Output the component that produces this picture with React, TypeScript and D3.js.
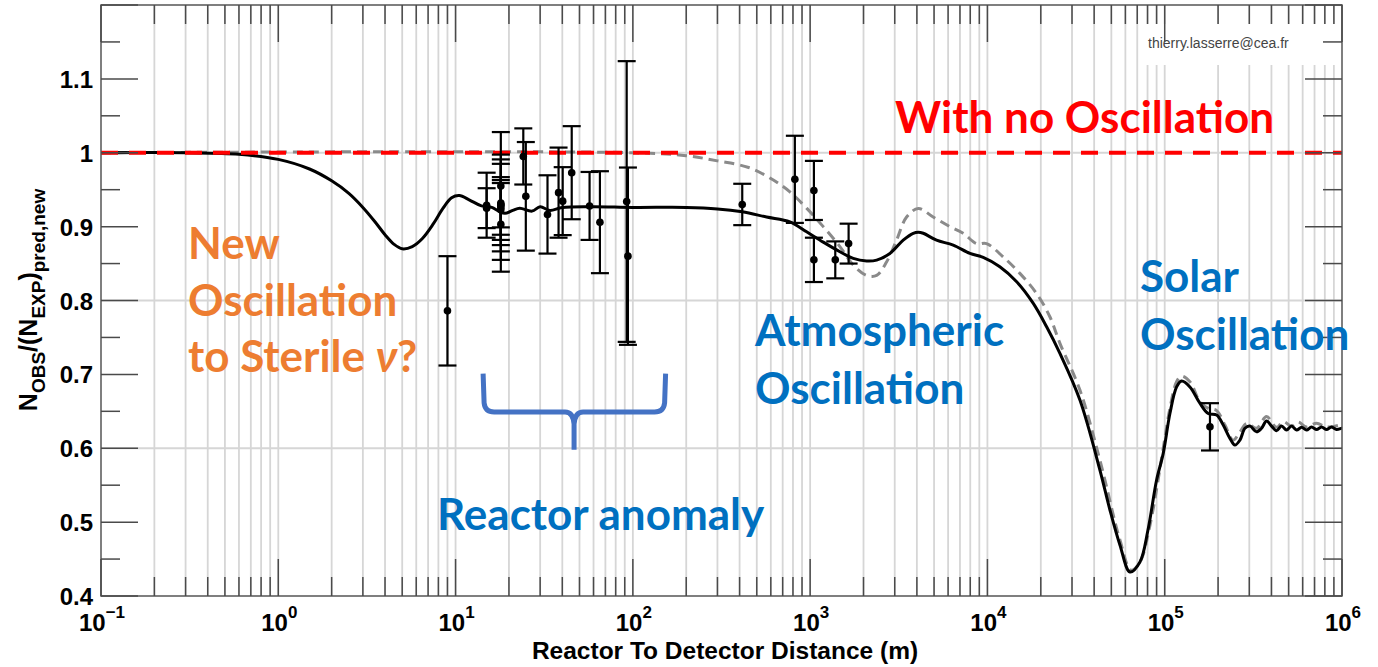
import React from "react";
import * as d3 from "d3";

// ---------- axes ----------
const xDomain: [number, number] = [0.1, 1e6];
const yDomain: [number, number] = [0.4, 1.2];
const xTickExponents = [-1, 0, 1, 2, 3, 4, 5, 6];
const yMajorTicks = [0.4, 0.5, 0.6, 0.7, 0.8, 0.9, 1.0, 1.1, 1.2];
const yTickLabels = ["0.4", "0.5", "0.6", "0.7", "0.8", "0.9", "1", "1.1", ""];
const yMinorTicks = [0.45, 0.55, 0.65, 0.75, 0.85, 0.95, 1.05, 1.15];
const yGridValues = [0.6, 0.8, 1.0];
const noOscillationLevel = 1.0;

// ---------- data points (distance in m, ratio, error) ----------
const dataDistance = [9.0, 14.97, 14.97, 18, 18, 18, 18, 18, 18, 18, 24.1, 24.9, 33.0, 38.1, 40.2, 45.2, 57, 65.2, 92.3, 93.8, 414, 820, 1050, 1050, 1386, 1648, 180000];
const dataRatio = [0.786, 0.929, 0.925, 0.955, 0.932, 0.903, 0.923, 0.930, 0.926, 0.929, 0.995, 0.941, 0.9165, 0.946, 0.9345, 0.973, 0.928, 0.906, 0.934, 0.860, 0.930, 0.964, 0.949, 0.855, 0.855, 0.877, 0.629];
const dataError = [0.074, 0.044, 0.027, 0.073, 0.0655, 0.064, 0.068, 0.055, 0.037, 0.030, 0.038, 0.0735, 0.053, 0.061, 0.046, 0.063, 0.046, 0.069, 0.19, 0.12, 0.028, 0.059, 0.040, 0.030, 0.025, 0.027, 0.032];

// ---------- curve with sterile oscillation (solid black) ----------
const sterileDistance = [0.1, 0.3, 0.6, 1.0, 1.5, 2.0, 2.5, 3.0, 3.5, 4.0, 4.5, 5.0, 5.7, 6.5, 7.5, 8.5, 9.5, 10.5, 12, 14, 16, 17.5, 19, 21, 23, 27, 30, 34, 40, 60, 100, 200, 300, 414, 568, 769, 955, 1186, 1472, 1750, 2083, 2372, 2818, 3350, 3814, 4074, 4345, 5164, 6412, 7965, 9467, 11750, 14620, 18140, 21570, 25640, 33250, 43100, 49100, 55900, 63700, 72500, 80400, 90000, 98100, 107000, 116700, 124500, 138700, 157900, 175900, 196300, 213800, 233300, 248900, 265600, 283400, 302300, 329600, 351600, 375200, 400500, 427300, 456000, 486600, 519400, 554200, 591400, 631000, 673000, 719000, 767000, 818000, 873000, 931000, 995000, 1000000];
const sterileRatio = [1.0, 1.0, 0.998, 0.991, 0.978, 0.962, 0.945, 0.926, 0.907, 0.889, 0.876, 0.870, 0.873, 0.884, 0.904, 0.925, 0.939, 0.942, 0.936, 0.928, 0.926, 0.921, 0.918, 0.922, 0.925, 0.921, 0.927, 0.922, 0.926, 0.927, 0.926, 0.926, 0.924, 0.920, 0.913, 0.9065, 0.893, 0.879, 0.866, 0.857, 0.8535, 0.8547, 0.8637, 0.8817, 0.891, 0.8925, 0.891, 0.8817, 0.875, 0.8637, 0.8583, 0.8456, 0.8253, 0.796, 0.7644, 0.7284, 0.6652, 0.5705, 0.5164, 0.469, 0.4325, 0.446, 0.489, 0.557, 0.593, 0.647, 0.683, 0.691, 0.683, 0.661, 0.647, 0.645, 0.6314, 0.6134, 0.6043, 0.611, 0.627, 0.630, 0.6223, 0.627, 0.6368, 0.630, 0.6237, 0.630, 0.6246, 0.630, 0.6246, 0.6283, 0.6246, 0.6287, 0.6253, 0.6287, 0.6253, 0.6287, 0.6253, 0.627, 0.627];

// ---------- standard three-flavour curve (dashed gray) ----------
const standardDistance = [0.1, 100, 200, 300, 450, 620, 769, 955, 1186, 1472, 1750, 2083, 2372, 2697, 3073, 3500, 4074, 4942, 6138, 7297, 8685, 9887, 12270, 15240, 18920, 22500, 25640, 33250, 43100, 55900, 64600, 72500, 82600, 98100, 107000, 116700, 124500, 138700, 157900, 175900, 196300, 219000, 243000, 265600, 290000, 329600, 375200, 427300, 466000, 519400, 564000, 631000, 719000, 818000, 995000];
const standardRatio = [1.0, 1.0, 0.996, 0.989, 0.980, 0.963, 0.947, 0.925, 0.900, 0.873, 0.848, 0.834, 0.834, 0.852, 0.8817, 0.913, 0.9246, 0.913, 0.900, 0.891, 0.877, 0.877, 0.859, 0.8367, 0.8096, 0.778, 0.742, 0.6787, 0.584, 0.4758, 0.435, 0.446, 0.496, 0.600, 0.654, 0.690, 0.6977, 0.690, 0.663, 0.654, 0.651, 0.631, 0.611, 0.622, 0.6337, 0.627, 0.643, 0.6283, 0.636, 0.630, 0.6355, 0.6287, 0.634, 0.6287, 0.632];

// ---------- reactor-anomaly brace (data coords) ----------
const braceFrom = 14.3;
const braceTo = 153;
const braceTip = 46.6;
const braceTop = 0.701;
const braceMid = 0.649;
const braceBottom = 0.598;

const ANNO_FONT = "Lato, 'Open Sans', sans-serif";
const AXIS_FONT = "'Liberation Sans', Arial, Helvetica, sans-serif";

export default function App() {
  const L = 101, R = 1342, T = 5, B = 596;
  const x = d3.scaleLog().domain(xDomain).range([L, R]);
  const y = d3.scaleLinear().domain(yDomain).range([B, T]);

  const xMinor: number[] = [];
  for (let e = -1; e < 6; e++) for (let k = 2; k <= 9; k++) xMinor.push(k * Math.pow(10, e));
  const xMajor = xTickExponents.map((e) => Math.pow(10, e));

  const mkPath = (dist: number[], ratio: number[]) =>
    d3
      .line<number>()
      .x((d) => x(d))
      .y((_, i) => y(ratio[i]))
      .curve(d3.curveCatmullRom.alpha(0.5))(dist) || "";

  const sterilePath = mkPath(sterileDistance, sterileRatio);
  const standardPath = mkPath(standardDistance, standardRatio);

  // brace
  const bl = x(braceFrom), br = x(braceTo), bt = x(braceTip);
  const yt = y(braceTop), ym = y(braceMid), yb = y(braceBottom);
  const bracePath = `M${bl},${yt} L${bl + 1},${ym - 9} Q${bl + 2},${ym} ${bl + 11},${ym} L${bt - 9},${ym} Q${bt - 1},${ym} ${bt},${ym + 12} L${bt},${yb} M${bt},${ym + 12} Q${bt + 1},${ym} ${bt + 9},${ym} L${br - 11},${ym} Q${br - 2},${ym} ${br - 1},${ym - 9} L${br},${yt}`;

  const tickColor = "#4a4a4a";
  const gridColor = "#d6d6d6";

  return (
    <svg
      width={1378}
      height={667}
      style={{ position: "absolute", left: 0, top: 0, background: "#fff" }}
    >
      <rect x={0} y={0} width={1378} height={667} fill="#fff" />
      {/* grid */}
      {[...xMinor, ...xMajor.slice(1, -1)].map((v, i) => (
        <line key={"gx" + i} x1={x(v)} x2={x(v)} y1={T} y2={B} stroke={gridColor} strokeWidth={1.8} />
      ))}
      {yGridValues.map((v, i) => (
        <line key={"gy" + i} x1={L} x2={R} y1={y(v)} y2={y(v)} stroke={gridColor} strokeWidth={1.8} />
      ))}

      {/* watermark box */}
      <rect x={1140} y={24} width={196} height={41} fill="#fff" />
      <text x={1148} y={48} fontFamily={AXIS_FONT} fontSize={14} fill="#444">
        thierry.lasserre@cea.fr
      </text>

      {/* curves */}
      <path d={standardPath} fill="none" stroke="#8a8a8a" strokeWidth={3} strokeDasharray="10,6" />
      <path d={sterilePath} fill="none" stroke="#000" strokeWidth={3} />
      <line
        x1={L}
        x2={R}
        y1={y(noOscillationLevel)}
        y2={y(noOscillationLevel)}
        stroke="#ff0000"
        strokeWidth={4}
        strokeDasharray="17,11"
      />

      {/* data points */}
      {dataDistance.map((d, i) => {
        const cx = x(d);
        const y1 = y(dataRatio[i] + dataError[i]);
        const y2 = y(dataRatio[i] - dataError[i]);
        return (
          <g key={"p" + i} stroke="#000" strokeWidth={2.2}>
            <line x1={cx} x2={cx} y1={y1} y2={y2} />
            <line x1={cx - 9} x2={cx + 9} y1={y1} y2={y1} />
            <line x1={cx - 9} x2={cx + 9} y1={y2} y2={y2} />
            <circle cx={cx} cy={y(dataRatio[i])} r={3.8} fill="#000" stroke="none" />
          </g>
        );
      })}

      {/* frame and ticks */}
      <rect x={L} y={T} width={R - L} height={B - T} fill="none" stroke="#555" strokeWidth={1.5} />
      {xMinor.map((v, i) => (
        <g key={"xt" + i} stroke={tickColor} strokeWidth={1.5}>
          <line x1={x(v)} x2={x(v)} y1={B} y2={B - 19} />
          <line x1={x(v)} x2={x(v)} y1={T} y2={T + 19} />
        </g>
      ))}
      {xMajor.map((v, i) => (
        <g key={"xM" + i} stroke={tickColor} strokeWidth={1.5}>
          <line x1={x(v)} x2={x(v)} y1={B} y2={B - 37} />
          <line x1={x(v)} x2={x(v)} y1={T} y2={T + 37} />
        </g>
      ))}
      {yMajorTicks.map((v, i) => (
        <g key={"yM" + i} stroke={tickColor} strokeWidth={1.5}>
          <line x1={L} x2={L + 37} y1={y(v)} y2={y(v)} />
          <line x1={R} x2={R - 37} y1={y(v)} y2={y(v)} />
        </g>
      ))}
      {yMinorTicks.map((v, i) => (
        <g key={"ym" + i} stroke={tickColor} strokeWidth={1.5}>
          <line x1={L} x2={L + 19} y1={y(v)} y2={y(v)} />
          <line x1={R} x2={R - 19} y1={y(v)} y2={y(v)} />
        </g>
      ))}

      {/* y tick labels */}
      {yMajorTicks.map((v, i) =>
        yTickLabels[i] ? (
          <text
            key={"yl" + i}
            x={93}
            y={y(v) + 9}
            textAnchor="end"
            fontFamily={AXIS_FONT}
            fontWeight="bold"
            fontSize={24}
            fill="#000"
          >
            {yTickLabels[i]}
          </text>
        ) : null
      )}

      {/* x tick labels */}
      {xTickExponents.map((e, i) => (
        <text
          key={"xl" + i}
          x={x(Math.pow(10, e)) + 1}
          y={631}
          textAnchor="middle"
          fontFamily={AXIS_FONT}
          fontWeight="bold"
          fontSize={24}
          fill="#000"
        >
          10
          <tspan fontSize={17} dy={-13}>
            {e < 0 ? "\u2212" + Math.abs(e) : String(e)}
          </tspan>
        </text>
      ))}

      {/* axis titles */}
      <text
        x={725}
        y={659}
        textAnchor="middle"
        fontFamily={AXIS_FONT}
        fontWeight="bold"
        fontSize={24.5}
        fill="#000"
      >
        Reactor To Detector Distance (m)
      </text>
      <text
        transform="translate(37,300) rotate(-90)"
        textAnchor="middle"
        fontFamily={AXIS_FONT}
        fontWeight="bold"
        fontSize={25}
        fill="#000"
      >
        N
        <tspan fontSize={19} dy={8}>OBS</tspan>
        <tspan dy={-8}>/(N</tspan>
        <tspan fontSize={19} dy={8}>EXP</tspan>
        <tspan dy={-8}>)</tspan>
        <tspan fontSize={19} dy={8}>pred,new</tspan>
      </text>

      {/* annotations */}
      <text x={895} y={133} fontFamily={ANNO_FONT} fontWeight="bold" fontSize={44} fill="#ff0000">
        With no Oscillation
      </text>
      <g fontFamily={ANNO_FONT} fontWeight="bold" fontSize={44} fill="#ED7D31">
        <text x={188} y={259}>New</text>
        <text x={188} y={316}>Oscillation</text>
        <text x={188} y={372}>
          to Sterile <tspan fontStyle="italic">ν</tspan>?
        </text>
      </g>
      <g fontFamily={ANNO_FONT} fontWeight="bold" fontSize={44} fill="#0070C0">
        <text x={755} y={346}>Atmospheric</text>
        <text x={755} y={404}>Oscillation</text>
        <text x={1140} y={292}>Solar</text>
        <text x={1140} y={350}>Oscillation</text>
        <text x={437} y={530}>Reactor anomaly</text>
      </g>
      <path d={bracePath} fill="none" stroke="#4472C4" strokeWidth={5} strokeLinejoin="round" strokeLinecap="butt" />
    </svg>
  );
}
